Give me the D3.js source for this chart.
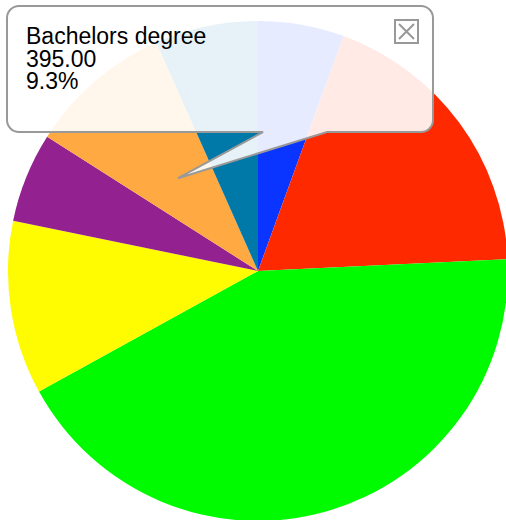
<!DOCTYPE html>
<html lang="en">
<head>
    <meta charset="UTF-8">
    <title>Educational attainment</title>
    <script src="https://d3js.org/d3.v7.min.js"></script>
    <style>
        body { margin: 0; background: #fff; }
        svg { display: block; }
    </style>
</head>
<body>
    <svg id="chart"></svg>

    <script>
        const width = 506;
        const height = 520;

        // data, clockwise from 12 o'clock
        const categories = ["No schooling", "Less than high school", "High school graduate",
            "Some college", "Associates degree", "Bachelors degree", "Graduate degree"];
        const values = [236, 793, 1814, 477, 246, 395, 283];
        const colors = ["#0a34ff", "#ff2900", "#00fb00", "#fffb00", "#93218f", "#fea941", "#0078a8"];

        const selected = 5; // slice the tooltip is showing

        const cx = 258, cy = 271, radius = 250;

        const svg = d3.select("#chart")
            .attr("width", width)
            .attr("height", height)
            .attr("viewBox", [0, 0, width, height]);

        const pie = d3.pie().sort(null).value(d => d);
        const arcs = pie(values);

        const arc = d3.arc().innerRadius(0).outerRadius(radius);

        const g = svg.append("g")
            .attr("transform", `translate(${cx},${cy})`);

        g.selectAll("path")
            .data(arcs)
            .join("path")
            .attr("fill", (d, i) => colors[i])
            .attr("d", arc);

        // tooltip callout
        const total = d3.sum(values);
        const tip = d3.arc().innerRadius(0).outerRadius(245).centroid(arcs[selected]);
        const tx = cx + tip[0], ty = cy + tip[1];

        const x0 = 7, y0 = 6, x1 = 433, y1 = 132, r = 12;
        const baseL = 263, baseR = 327;

        const p = d3.path();
        p.moveTo(x0 + r, y0);
        p.lineTo(x1 - r, y0);
        p.arcTo(x1, y0, x1, y0 + r, r);
        p.lineTo(x1, y1 - r);
        p.arcTo(x1, y1, x1 - r, y1, r);
        p.lineTo(baseR, y1);
        p.lineTo(tx, ty);
        p.lineTo(baseL, y1);
        p.lineTo(x0 + r, y1);
        p.arcTo(x0, y1, x0, y1 - r, r);
        p.lineTo(x0, y0 + r);
        p.arcTo(x0, y0, x0 + r, y0, r);
        p.closePath();

        const tipG = svg.append("g");

        tipG.append("path")
            .attr("d", p.toString())
            .attr("fill", "#fff")
            .attr("fill-opacity", 0.9)
            .attr("stroke", "#999")
            .attr("stroke-width", 2)
            .attr("stroke-linejoin", "miter");

        const lines = [categories[selected], d3.format(".2f")(values[selected]),
            d3.format(".1%")(values[selected] / total)];

        tipG.append("text")
            .attr("font-family", "Liberation Sans, Arial, sans-serif")
            .attr("font-size", 23)
            .attr("fill", "#000")
            .selectAll("tspan")
            .data(lines)
            .join("tspan")
            .attr("x", 26)
            .attr("y", (d, i) => 44 + i * 22.5)
            .text(d => d);

        // close button
        const close = tipG.append("g")
            .attr("transform", "translate(394,19)")
            .attr("stroke", "#999")
            .attr("stroke-width", 2)
            .attr("fill", "none");
        close.append("rect").attr("x", 1).attr("y", 1).attr("width", 23).attr("height", 23);
        close.append("path").attr("d", "M5,5L20,20M20,5L5,20");
    </script>
</body>
</html>
